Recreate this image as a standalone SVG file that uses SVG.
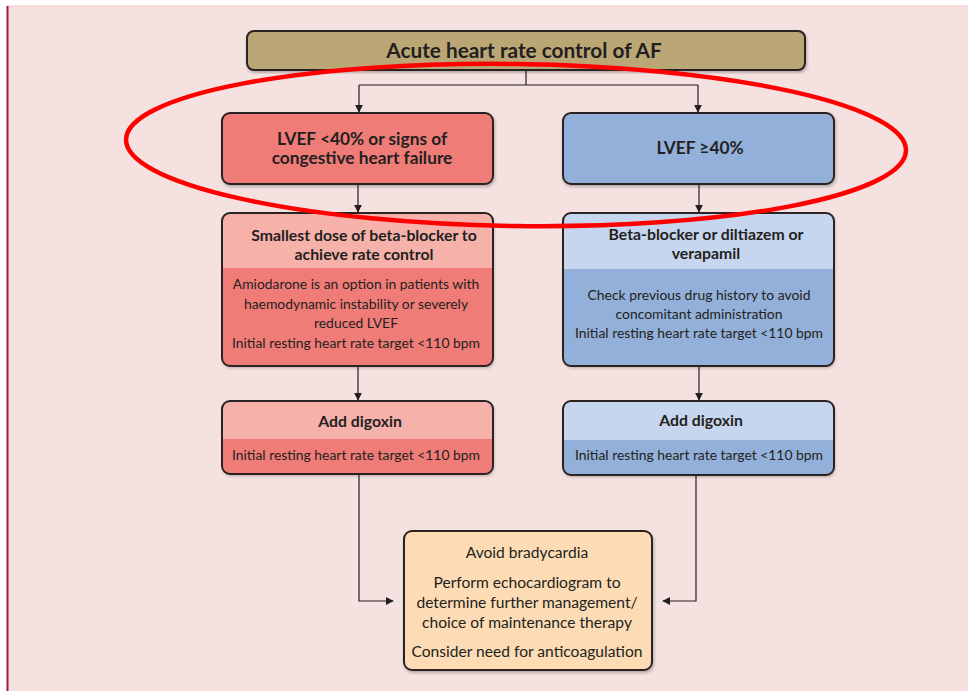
<svg xmlns="http://www.w3.org/2000/svg" width="968" height="691" viewBox="0 0 968 691">
<defs>
<marker id="arr" viewBox="0 0 10 10" refX="9" refY="5" markerWidth="8" markerHeight="8" markerUnits="userSpaceOnUse" orient="auto">
<path d="M0,0 L10,5 L0,10 z" fill="#231f20"/>
</marker>
<filter id="sh" x="-5%" y="-5%" width="110%" height="115%">
<feDropShadow dx="1" dy="2" stdDeviation="1.5" flood-color="#000" flood-opacity="0.25"/>
</filter>
<style>
.t{font-family:Lato,"Open Sans","Liberation Sans",sans-serif;fill:#231f20;text-anchor:middle}
.b{font-weight:bold;font-size:15.8px}
.b1{font-weight:bold;font-size:17.3px}
.r{font-size:13.9px}
.w{font-size:15.6px}
.box{stroke:#2b2322;stroke-width:2}
.con{fill:none;stroke:#231f20;stroke-width:1.2}
</style>
</defs>
<rect x="0" y="0" width="968" height="691" fill="#ffffff"/>
<rect x="7" y="6" width="961" height="685" fill="#f4e1e0"/>
<line x1="7" y1="6" x2="968" y2="6" stroke="#f0c8cc" stroke-width="1"/>
<line x1="7.5" y1="6" x2="7.5" y2="691" stroke="#9c1b36" stroke-width="2"/>

<g id="connectors">
<path class="con" d="M526,70 V85 M359,85 H698"/>
<path class="con" d="M359,85 V112" marker-end="url(#arr)"/>
<path class="con" d="M698,85 V112" marker-end="url(#arr)"/>
<path class="con" d="M358,184 V212" marker-end="url(#arr)"/>
<path class="con" d="M699,184 V212" marker-end="url(#arr)"/>
<path class="con" d="M358,366 V400" marker-end="url(#arr)"/>
<path class="con" d="M699,366 V400" marker-end="url(#arr)"/>
<path class="con" d="M359,474 V601 H393" marker-end="url(#arr)"/>
<path class="con" d="M696,475 V601 H663" marker-end="url(#arr)"/>
</g>

<g id="title">
<rect class="box" x="247" y="31" width="558" height="39" rx="7" fill="#bba675" filter="url(#sh)"/>
<text class="t" x="524" y="58" style="font-weight:bold;font-size:20.8px">Acute heart rate control of AF</text>
</g>

<g id="lvef-low">
<rect class="box" x="222" y="113" width="271" height="71" rx="8" fill="#f07b78" filter="url(#sh)"/>
<text class="t b1" x="362" y="145">LVEF &lt;40% or signs of</text>
<text class="t b1" x="362" y="164">congestive heart failure</text>
</g>

<g id="lvef-high">
<rect class="box" x="563" y="113" width="271" height="71" rx="8" fill="#92b0d9" filter="url(#sh)"/>
<text class="t b1" x="700" y="154">LVEF ≥40%</text>
</g>

<g id="beta-blocker-low">
<rect x="222" y="213" width="271" height="153" rx="8" fill="#f07b78" filter="url(#sh)"/>
<path d="M230,213 H485 A8,8 0 0 1 493,221 V268 H222 V221 A8,8 0 0 1 230,213 z" fill="#f6b1ab"/>
<rect class="box" x="222" y="213" width="271" height="153" rx="8" fill="none"/>
<text class="t b" x="364" y="241">Smallest dose of beta-blocker to</text>
<text class="t b" x="364" y="260">achieve rate control</text>
<text class="t r" x="356" y="289">Amiodarone is an option in patients with</text>
<text class="t r" x="356" y="309">haemodynamic instability or severely</text>
<text class="t r" x="356" y="328">reduced LVEF</text>
<text class="t r" x="356" y="348">Initial resting heart rate target &lt;110 bpm</text>
</g>

<g id="beta-blocker-high">
<rect x="563" y="213" width="271" height="153" rx="8" fill="#92b0d9" filter="url(#sh)"/>
<path d="M571,213 H826 A8,8 0 0 1 834,221 V269 H563 V221 A8,8 0 0 1 571,213 z" fill="#c6d6ee"/>
<rect class="box" x="563" y="213" width="271" height="153" rx="8" fill="none"/>
<text class="t b" x="706" y="240">Beta-blocker or diltiazem or</text>
<text class="t b" x="706" y="259">verapamil</text>
<text class="t r" x="699" y="300">Check previous drug history to avoid</text>
<text class="t r" x="699" y="319">concomitant administration</text>
<text class="t r" x="699" y="338">Initial resting heart rate target &lt;110 bpm</text>
</g>

<g id="digoxin-low">
<rect x="222" y="401" width="271" height="73" rx="8" fill="#f07b78" filter="url(#sh)"/>
<path d="M230,401 H485 A8,8 0 0 1 493,409 V439 H222 V409 A8,8 0 0 1 230,401 z" fill="#f6b1ab"/>
<rect class="box" x="222" y="401" width="271" height="73" rx="8" fill="none"/>
<text class="t b" x="360" y="427">Add digoxin</text>
<text class="t r" x="356" y="460">Initial resting heart rate target &lt;110 bpm</text>
</g>

<g id="digoxin-high">
<rect x="563" y="401" width="271" height="74" rx="8" fill="#92b0d9" filter="url(#sh)"/>
<path d="M571,401 H826 A8,8 0 0 1 834,409 V440 H563 V409 A8,8 0 0 1 571,401 z" fill="#c6d6ee"/>
<rect class="box" x="563" y="401" width="271" height="74" rx="8" fill="none"/>
<text class="t b" x="701" y="426">Add digoxin</text>
<text class="t r" x="699" y="460">Initial resting heart rate target &lt;110 bpm</text>
</g>

<g id="bradycardia">
<rect class="box" x="404" y="531" width="248" height="139" rx="8" fill="#fddcb5" filter="url(#sh)"/>
<text class="t w" x="527" y="558">Avoid bradycardia</text>
<text class="t w" x="527" y="588">Perform echocardiogram to</text>
<text class="t w" x="527" y="608">determine further management/</text>
<text class="t w" x="527" y="628">choice of maintenance therapy</text>
<text class="t w" x="527" y="657">Consider need for anticoagulation</text>
</g>

<ellipse cx="516" cy="145" rx="390" ry="81" fill="none" stroke="#ff0000" stroke-width="4.5" transform="rotate(0.8 516 145)"/>
</svg>
